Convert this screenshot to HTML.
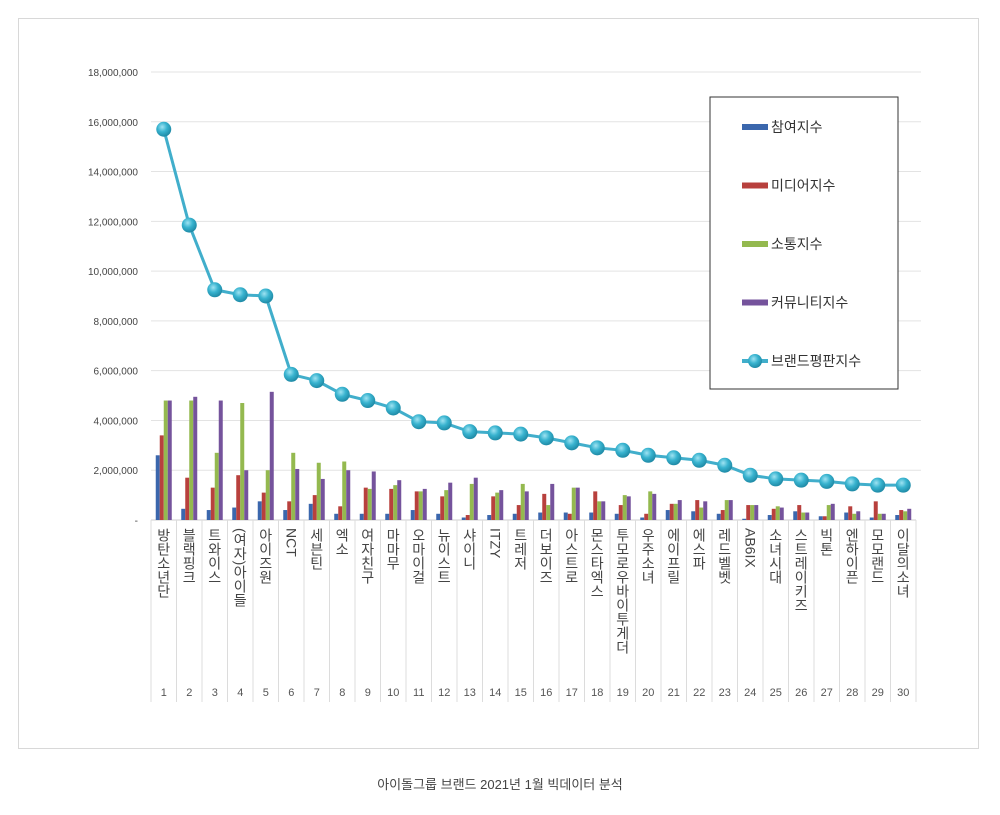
<!DOCTYPE html>
<html><head><meta charset="utf-8"><style>
body{margin:0;background:#fff;width:1000px;height:815px;overflow:hidden;font-family:"Liberation Sans","Noto Sans CJK KR",sans-serif}
#frame{position:absolute;left:18px;top:18px;width:961px;height:731px;border:1px solid #d8d8d8;box-sizing:border-box}
#cap{position:absolute;left:0;top:774px;width:1000px;text-align:center;font-size:13px;color:#444}
svg{position:absolute;left:0;top:0}
</style></head><body>
<div id="frame"></div>
<svg id="chart" width="1000" height="815">
<defs><radialGradient id="mk" cx="40%" cy="35%" r="65%"><stop offset="0" stop-color="#9fe3f2"/><stop offset="0.5" stop-color="#38b3cf"/><stop offset="1" stop-color="#1f8aa6"/></radialGradient></defs>
</svg>
<div id="cap">아이돌그룹 브랜드 2021년 1월 빅데이터 분석</div>
<script>
const categories=["방탄소년단","블랙핑크","트와이스","(여자)아이들","아이즈원","NCT","세븐틴","엑소","여자친구","마마무","오마이걸","뉴이스트","샤이니","ITZY","트레저","더보이즈","아스트로","몬스타엑스","투모로우바이투게더","우주소녀","에이프릴","에스파","레드벨벳","AB6IX","소녀시대","스트레이키즈","빅톤","엔하이픈","모모랜드","이달의소녀"];
const participation=[2.6,0.45,0.4,0.5,0.75,0.4,0.65,0.25,0.25,0.25,0.4,0.25,0.1,0.2,0.25,0.3,0.3,0.3,0.25,0.1,0.4,0.35,0.25,0.05,0.2,0.35,0.15,0.3,0.1,0.2];
const media=[3.4,1.7,1.3,1.8,1.1,0.75,1.0,0.55,1.3,1.25,1.15,0.95,0.2,0.95,0.6,1.05,0.25,1.15,0.6,0.25,0.65,0.8,0.4,0.6,0.45,0.6,0.15,0.55,0.75,0.4];
const communication=[4.8,4.8,2.7,4.7,2.0,2.7,2.3,2.35,1.25,1.4,1.15,1.2,1.45,1.1,1.45,0.6,1.3,0.75,1.0,1.15,0.65,0.5,0.8,0.6,0.55,0.3,0.6,0.25,0.25,0.35];
const community=[4.8,4.95,4.8,2.0,5.15,2.05,1.65,2.0,1.95,1.6,1.25,1.5,1.7,1.2,1.15,1.45,1.3,0.75,0.95,1.05,0.8,0.75,0.8,0.6,0.5,0.3,0.65,0.35,0.25,0.45];
const brandIndex=[15.7,11.85,9.25,9.05,9.0,5.85,5.6,5.05,4.8,4.5,3.95,3.9,3.55,3.5,3.45,3.3,3.1,2.9,2.8,2.6,2.5,2.4,2.2,1.8,1.65,1.6,1.55,1.45,1.4,1.4];
const yTicks=[0,2,4,6,8,10,12,14,16,18];
const yTickLabels=["-","2,000,000","4,000,000","6,000,000","8,000,000","10,000,000","12,000,000","14,000,000","16,000,000","18,000,000"];
const seriesNames=["참여지수","미디어지수","소통지수","커뮤니티지수","브랜드평판지수"];

const NS="http://www.w3.org/2000/svg",svg=document.getElementById('chart');
const X0=151,X1=916,Y0=520,YT=72;
const bw=(X1-X0)/categories.length;
const y=v=>Y0-(v/18)*(Y0-YT);
const xc=i=>X0+bw*(i+0.5);
function mk(t,a,p){const e=document.createElementNS(NS,t);for(const k in a)e.setAttribute(k,a[k]);(p||svg).appendChild(e);return e;}
yTicks.forEach((t,i)=>{
  if(t>0){const g=mk('line',{x1:X0,x2:X1+5,y1:y(t),y2:y(t),stroke:'#e3e3e3','stroke-width':1});
  
  }
  const l=mk('text',{x:138,y:y(t)+4,'text-anchor':'end','font-size':10,fill:'#444'});l.textContent=yTickLabels[i];
  
  
});
const base=mk('line',{x1:X0,x2:X1,y1:Y0,y2:Y0,stroke:'#cfcfcf'});


for(let i=0;i<=categories.length;i++){
  const s=mk('line',{x1:X0+bw*i,x2:X0+bw*i,y1:Y0,y2:702,stroke:'#dcdcdc'});
  
  
}
const cols=['#3b67ad','#b8403d','#94b94f','#75539c'];
const series=[participation,media,communication,community];
categories.forEach((c,i)=>{
  series.forEach((s,k)=>{
    const r=mk('rect',{x:xc(i)-8+k*4,y:y(s[i]),width:4,height:Y0-y(s[i]),fill:cols[k]});
    
    
  });
  const fo=mk('foreignObject',{x:xc(i)-11,y:528,width:22,height:150});
  const d=document.createElement('div');
  d.style.cssText='writing-mode:vertical-rl;text-orientation:mixed;font-size:14px;color:#444;line-height:22px;width:22px;font-family:"Liberation Sans","Noto Sans CJK KR",sans-serif';
  d.textContent=c;fo.appendChild(d);
  
  
  const n=mk('text',{x:xc(i),y:696,'text-anchor':'middle','font-size':11,fill:'#555'});n.textContent=i+1;
  
  
});
const pl=mk('polyline',{points:brandIndex.map((v,i)=>xc(i)+','+y(v)).join(' '),fill:'none',stroke:'#41aecb','stroke-width':3});


brandIndex.forEach((v,i)=>{
  const c=mk('circle',{cx:xc(i),cy:y(v),r:7.5,fill:'url(#mk)'});
  
  
});
// legend
const lg=mk('g',{});


mk('rect',{x:710,y:97,width:188,height:292,fill:'#fff',stroke:'#333','stroke-width':1},lg);
seriesNames.forEach((nm,k)=>{
  const ly=127+k*58.5;
  if(k<4){mk('rect',{x:742,y:ly-3,width:26,height:6,fill:cols[k]},lg);}
  else{mk('line',{x1:742,x2:768,y1:ly,y2:ly,stroke:'#41aecb','stroke-width':4},lg);mk('circle',{cx:755,cy:ly,r:7,fill:'url(#mk)'},lg);}
  const t=mk('text',{x:771,y:ly+5,'font-size':14,fill:'#333'},lg);t.textContent=nm;
  
  
});
</script>
</body></html>
